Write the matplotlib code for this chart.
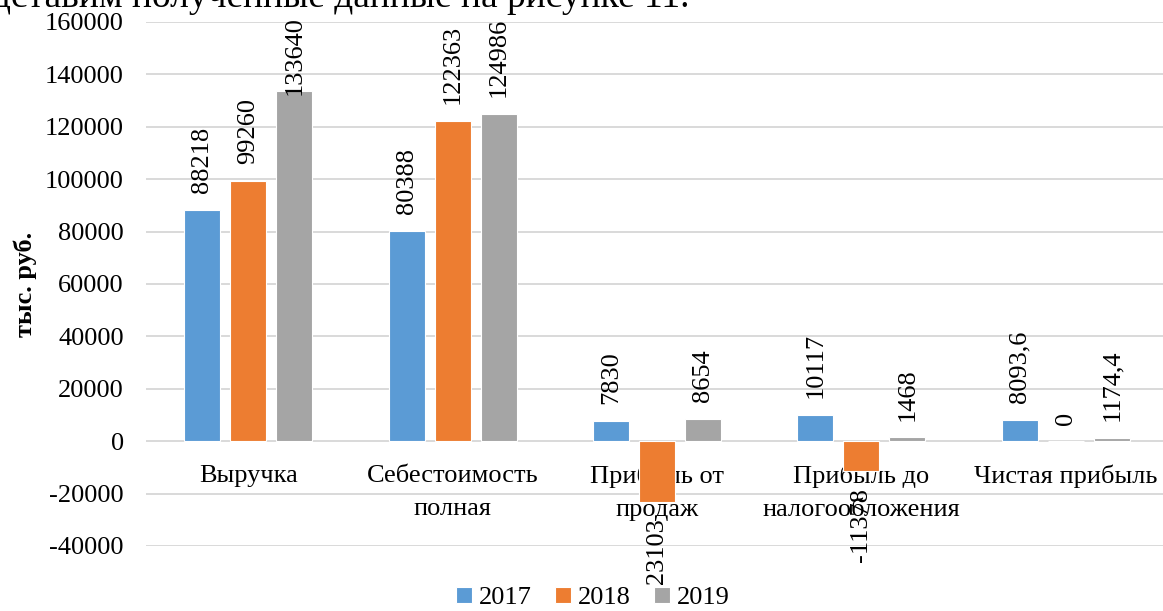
import numpy as np
import matplotlib
matplotlib.use('Agg')
import matplotlib.pyplot as plt

# indicators and values, thousand rubles
categories = ['Выручка', 'Себестоимость\nполная', 'Прибыль от\nпродаж',
              'Прибыль до\nналогообложения', 'Чистая прибыль']
years = ['2017', '2018', '2019']
values_2017 = [88218, 80388, 7830, 10117, 8093.6]
values_2018 = [99260, 122363, -23103, -11378, 0]
values_2019 = [133640, 124986, 8654, 1468, 1174.4]
y_ticks = [-40000, -20000, 0, 20000, 40000, 60000, 80000, 100000, 120000, 140000, 160000]

colors = ['#5B9BD5', '#ED7D31', '#A5A5A5']

plt.rcParams['font.family'] = ['Liberation Serif', 'DejaVu Serif']


def fmt(v):
    # whole numbers without decimals, others with a comma
    if float(v).is_integer():
        return str(int(v))
    return ('%.1f' % v).replace('.', ',')


W, H = 1163, 611
fig = plt.figure(figsize=(W / 100, H / 100), dpi=100)
ax = fig.add_axes([146 / W, 65 / H, (1168 - 146) / W, 524 / H])

x = np.arange(len(categories))
width = 0.176
step = 0.225
series = [values_2017, values_2018, values_2019]

labels = []
for i, (vals, col, yr) in enumerate(zip(series, colors, years)):
    pos = x + (i - 1) * step
    ax.bar(pos, vals, width, color=col, edgecolor='white', linewidth=0.8, label=yr, zorder=2)
    for px, v in zip(pos, vals):
        if v >= 0:
            t = ax.annotate(fmt(v), (px, v), xytext=(0, 12), textcoords='offset points',
                            rotation=90, ha='center', va='bottom', fontsize=19)
        else:
            t = ax.annotate(fmt(v), (px, v), xytext=(0, -12), textcoords='offset points',
                            rotation=90, ha='center', va='top', fontsize=19)
        labels.append(t)

ax.set_xlim(-0.5, len(categories) - 0.5)
ax.set_ylim(-40000, 160000)
ax.spines['bottom'].set_position(('data', 0))
for s in ax.spines.values():
    s.set_visible(False)
ax.set_yticks(y_ticks)
ax.set_yticklabels([str(t) for t in y_ticks])
ax.set_xticks(x)
ax.set_xticklabels(categories, linespacing=1.65)
ax.tick_params(axis='x', length=0, pad=17, labelsize=19)
ax.tick_params(axis='y', length=0, pad=16, labelsize=19)
ax.yaxis.grid(True, color='#d9d9d9', linewidth=1.4, zorder=0)
ax.set_axisbelow(True)

fig.text(25 / W, 1 - 284 / H, 'тыс. руб.', rotation=90, ha='center', va='center',
         fontsize=19, fontweight='bold')

fig.legend(loc='center', bbox_to_anchor=(593 / W, 1 - 598 / H), ncol=3, frameon=False,
           fontsize=19, handlelength=0.6, handleheight=0.6, handletextpad=0.25,
           columnspacing=0.9, borderpad=0)

# the sentence above the figure in the source document
fig.text(690 / W, 1 - 7 / H, 'Представим полученные данные на рисунке 11.',
         ha='right', va='baseline', fontsize=27)

# keep value labels inside the chart: push down any that run past the top
fig.canvas.draw()
limit = H - 16
for t in labels:
    bb = t.get_window_extent()
    if bb.y1 > limit:
        ox, oy = t.xyann
        t.xyann = (ox, oy - (bb.y1 - limit) * 72 / 100)

fig.savefig('out.png', dpi=100)
